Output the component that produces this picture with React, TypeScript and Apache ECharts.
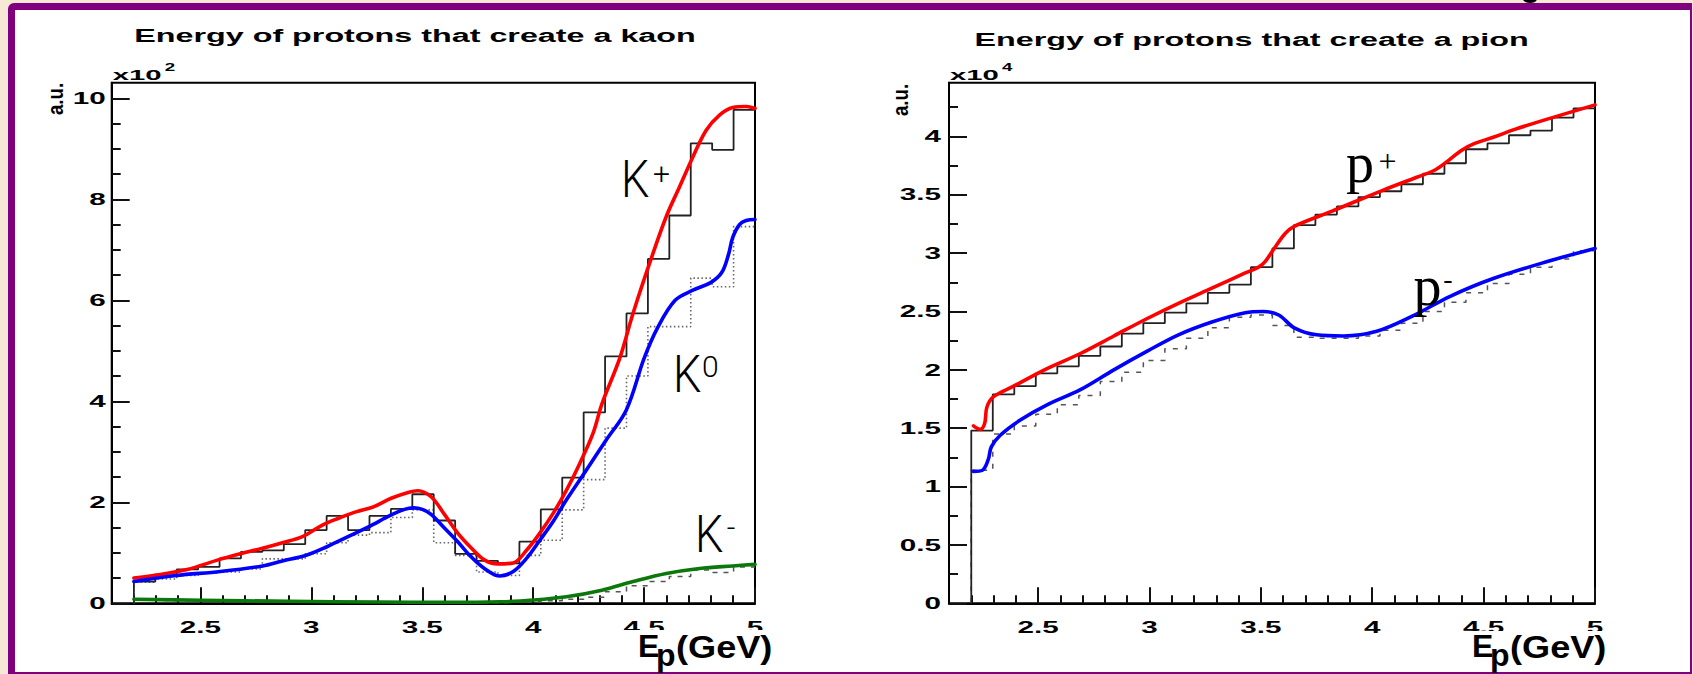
import React, { useEffect, useRef } from "react";
import * as echarts from "echarts";

const W = 1693;
const H = 674;

// ---- axes ----
const X_MIN = 2.1;
const X_MAX = 5.0;
const KAON_Y_MAX = 10.31; // units of 10^2
const PION_Y_MAX = 4.46; // units of 10^4

// ---- histogram binning ----
const BIN_MIN = 2.2;
const BIN_MAX = 5.0;
const N_BINS = 29;

// ---- tick values / labels ----
const xMajorTicks = [2.5, 3, 3.5, 4, 4.5, 5];
const xTickLabels = ["2.5", "3", "3.5", "4", "4.5", "5"];
const xMinorTicks = [2.2, 2.3, 2.4, 2.6, 2.7, 2.8, 2.9, 3.1, 3.2, 3.3, 3.4, 3.6, 3.7, 3.8, 3.9, 4.1, 4.2, 4.3, 4.4, 4.6, 4.7, 4.8, 4.9];
const kaonYMajor = [0, 2, 4, 6, 8, 10];
const kaonYLabels = ["0", "2", "4", "6", "8", "10"];
const kaonYMinor = [0.5, 1, 1.5, 2.5, 3, 3.5, 4.5, 5, 5.5, 6.5, 7, 7.5, 8.5, 9, 9.5];
const pionYMajor = [0, 0.5, 1, 1.5, 2, 2.5, 3, 3.5, 4];
const pionYLabels = ["0", "0.5", "1", "1.5", "2", "2.5", "3", "3.5", "4"];
const pionYMinor = [0.25, 0.75, 1.25, 1.75, 2.25, 2.75, 3.25, 3.75, 4.25];

// ---- kaon histograms (x10^2) ----
const kPlusHist = [0.43, 0.55, 0.67, 0.72, 0.89, 1.02, 1.05, 1.17, 1.45, 1.73, 1.45, 1.73, 1.87, 2.16, 1.64, 0.98, 0.84, 0.79, 1.22, 1.86, 2.49, 3.78, 4.89, 5.74, 6.82, 7.68, 9.11, 8.98, 9.77];
const kZeroHist = [0.42, 0.48, 0.55, 0.6, 0.62, 0.68, 0.88, 0.88, 0.98, 1.2, 1.35, 1.4, 1.7, 1.85, 1.2, 0.95, 0.62, 0.55, 0.95, 1.25, 1.85, 2.45, 3.47, 4.5, 5.48, 5.48, 6.44, 6.27, 7.46];
const kMinusHist = [0.06, 0.05, 0.05, 0.04, 0.04, 0.03, 0.03, 0.03, 0.02, 0.02, 0.02, 0.02, 0.01, 0.01, 0.01, 0.01, 0.01, 0.02, 0.03, 0.05, 0.08, 0.12, 0.23, 0.35, 0.43, 0.53, 0.66, 0.61, 0.72];

// ---- kaon fitted curves ----
const kPlusCurve = [[2.2, 0.5], [2.3, 0.56], [2.44, 0.67], [2.58, 0.86], [2.68, 0.98], [2.78, 1.09], [2.87, 1.2], [2.96, 1.32], [3.05, 1.55], [3.12, 1.68], [3.2, 1.81], [3.28, 1.91], [3.36, 2.08], [3.44, 2.2], [3.48, 2.23], [3.54, 2.11], [3.6, 1.76], [3.66, 1.39], [3.72, 1.1], [3.78, 0.86], [3.84, 0.78], [3.91, 0.8], [3.97, 1.05], [4.03, 1.39], [4.09, 1.78], [4.15, 2.24], [4.21, 2.77], [4.27, 3.37], [4.31, 3.95], [4.39, 4.85], [4.45, 5.74], [4.53, 6.8], [4.6, 7.66], [4.66, 8.25], [4.72, 8.84], [4.78, 9.37], [4.84, 9.67], [4.9, 9.82], [4.96, 9.84], [5.0, 9.8]];
const kZeroCurve = [[2.2, 0.43], [2.39, 0.55], [2.59, 0.63], [2.78, 0.74], [2.87, 0.84], [2.97, 0.94], [3.07, 1.12], [3.17, 1.33], [3.26, 1.52], [3.36, 1.75], [3.42, 1.86], [3.46, 1.89], [3.5, 1.86], [3.54, 1.76], [3.6, 1.49], [3.66, 1.22], [3.72, 0.92], [3.78, 0.69], [3.85, 0.54], [3.91, 0.63], [3.97, 0.89], [4.03, 1.25], [4.09, 1.62], [4.15, 2.05], [4.24, 2.64], [4.33, 3.24], [4.42, 3.83], [4.5, 4.85], [4.56, 5.45], [4.64, 6.0], [4.72, 6.2], [4.8, 6.35], [4.85, 6.55], [4.88, 6.9], [4.9, 7.25], [4.93, 7.5], [4.96, 7.58], [5.0, 7.6]];
const kMinusCurve = [[2.2, 0.08], [2.5, 0.06], [2.9, 0.04], [3.3, 0.025], [3.6, 0.02], [3.85, 0.03], [4.0, 0.065], [4.15, 0.13], [4.31, 0.26], [4.45, 0.43], [4.6, 0.59], [4.75, 0.69], [4.9, 0.74], [5.0, 0.77]];

// ---- pion histograms (x10^4) ----
const piPlusHist = [1.48, 1.79, 1.86, 1.97, 2.03, 2.12, 2.2, 2.31, 2.4, 2.49, 2.57, 2.66, 2.73, 2.88, 3.04, 3.24, 3.33, 3.4, 3.48, 3.53, 3.59, 3.68, 3.77, 3.89, 3.94, 4.01, 4.05, 4.16, 4.24];
const piMinusHist = [1.14, 1.45, 1.52, 1.62, 1.7, 1.78, 1.9, 1.98, 2.08, 2.18, 2.27, 2.36, 2.45, 2.47, 2.38, 2.28, 2.27, 2.27, 2.29, 2.34, 2.4, 2.5, 2.58, 2.66, 2.74, 2.82, 2.88, 2.95, 3.02];

// ---- pion fitted curves ----
const piPlusCurve = [[2.21, 1.52], [2.24, 1.49], [2.26, 1.54], [2.27, 1.68], [2.3, 1.77], [2.39, 1.86], [2.54, 2.01], [2.69, 2.14], [2.84, 2.29], [2.99, 2.44], [3.13, 2.57], [3.28, 2.7], [3.43, 2.83], [3.49, 2.88], [3.52, 2.93], [3.56, 3.04], [3.61, 3.17], [3.65, 3.23], [3.82, 3.36], [4.05, 3.54], [4.2, 3.65], [4.28, 3.71], [4.34, 3.79], [4.4, 3.88], [4.46, 3.94], [4.54, 3.99], [4.64, 4.06], [4.79, 4.15], [5.0, 4.27]];
const piMinusCurve = [[2.21, 1.13], [2.25, 1.14], [2.276, 1.23], [2.29, 1.34], [2.33, 1.44], [2.42, 1.57], [2.54, 1.7], [2.69, 1.83], [2.84, 2.0], [2.99, 2.16], [3.13, 2.3], [3.28, 2.41], [3.43, 2.49], [3.51, 2.5], [3.58, 2.47], [3.65, 2.36], [3.75, 2.3], [3.87, 2.29], [4.02, 2.33], [4.18, 2.46], [4.35, 2.63], [4.54, 2.78], [4.79, 2.93], [5.0, 3.04]];

const SANS = '"Liberation Sans", Arial, Helvetica, sans-serif';
const SERIF = '"Liberation Serif", "Times New Roman", serif';
const THIN = 'Roboto, "Liberation Sans", sans-serif';

const binEdges = Array.from({ length: N_BINS + 1 }, (_, i) => BIN_MIN + (i * (BIN_MAX - BIN_MIN)) / N_BINS);

function histData(vals: number[]) {
  const d: number[][] = [[BIN_MIN, 0]];
  vals.forEach((v, i) => d.push([binEdges[i], v]));
  d.push([BIN_MAX, vals[vals.length - 1]]);
  return d;
}

function xAxisDef(gridIndex: number, ticks: number[], len: number, showLine: boolean) {
  return {
    type: "value",
    gridIndex,
    min: X_MIN,
    max: X_MAX,
    position: "bottom",
    axisLine: { show: showLine, onZero: false, lineStyle: { color: "#000", width: 2 } },
    axisTick: { show: true, inside: true, length: len, customValues: ticks, lineStyle: { color: "#111", width: 2 } },
    axisLabel: { show: false },
    splitLine: { show: false },
  };
}

function yAxisDef(gridIndex: number, max: number, ticks: number[], len: number, showLine: boolean) {
  return {
    type: "value",
    gridIndex,
    min: 0,
    max,
    position: "left",
    axisLine: { show: showLine, onZero: false, lineStyle: { color: "#000", width: 2 } },
    axisTick: { show: true, inside: true, length: len, customValues: ticks, lineStyle: { color: "#111", width: 2 } },
    axisLabel: { show: false },
    splitLine: { show: false },
  };
}

function histSeries(name: string, vals: number[], axis: number, color: string, type: any, width: number) {
  return {
    name,
    type: "line",
    xAxisIndex: axis,
    yAxisIndex: axis,
    step: "end",
    data: histData(vals),
    symbol: "none",
    showSymbol: false,
    lineStyle: { color, width, type },
    silent: true,
    z: 2,
  };
}

function curveSeries(name: string, pts: number[][], axis: number, color: string) {
  return {
    name,
    type: "line",
    xAxisIndex: axis,
    yAxisIndex: axis,
    data: pts,
    smooth: 0.35,
    symbol: "none",
    showSymbol: false,
    lineStyle: { color, width: 3.6, cap: "round", join: "round" },
    silent: true,
    z: 3,
  };
}

function buildOption() {
  const gridBase = { show: true, borderColor: "#000", borderWidth: 2, backgroundColor: "transparent", containLabel: false, outerBoundsMode: "none" };
  return {
    animation: false,
    backgroundColor: "transparent",
    grid: [
      { ...gridBase, left: 111.7, top: 82.7, width: 643.3, height: 520.6 },
      { ...gridBase, left: 949, top: 82.7, width: 646, height: 520.6 },
    ],
    xAxis: [
      xAxisDef(0, xMajorTicks, 16, true),
      xAxisDef(0, xMinorTicks, 8, false),
      xAxisDef(1, xMajorTicks, 16, true),
      xAxisDef(1, xMinorTicks, 8, false),
    ],
    yAxis: [
      yAxisDef(0, KAON_Y_MAX, kaonYMajor, 18, true),
      yAxisDef(0, KAON_Y_MAX, kaonYMinor, 9, false),
      yAxisDef(1, PION_Y_MAX, pionYMajor, 18, true),
      yAxisDef(1, PION_Y_MAX, pionYMinor, 9, false),
    ],
    series: [
      histSeries("K- hist", kMinusHist, 0, "#555", [5, 6], 1.5),
      histSeries("K0 hist", kZeroHist, 0, "#666", [1.5, 2.5], 1.6),
      histSeries("K+ hist", kPlusHist, 0, "#222", "solid", 1.8),
      curveSeries("K+", kPlusCurve, 0, "#ff0000"),
      curveSeries("K0", kZeroCurve, 0, "#0000ff"),
      curveSeries("K-", kMinusCurve, 0, "#0a780a"),
      histSeries("pi- hist", piMinusHist, 2, "#555", [5, 7], 1.5),
      histSeries("pi+ hist", piPlusHist, 2, "#222", "solid", 1.8),
      curveSeries("pi+", piPlusCurve, 2, "#ff0000"),
      curveSeries("pi-", piMinusCurve, 2, "#0000ff"),
    ],
  };
}

type TOpt = { fs: number; ff?: string; fw?: any; sx?: number; sy?: number; rot?: number; align?: string; va?: string; fill?: string; z?: number };

function txt(text: string, x: number, y: number, o: TOpt) {
  return {
    type: "text",
    x,
    y,
    z: o.z ?? 100,
    scaleX: o.sx ?? 1,
    scaleY: o.sy ?? 1,
    rotation: o.rot ?? 0,
    silent: true,
    style: {
      text,
      fill: o.fill ?? "#000",
      fontSize: o.fs,
      fontFamily: o.ff ?? SANS,
      fontWeight: o.fw ?? "normal",
      align: o.align ?? "left",
      verticalAlign: o.va ?? "middle",
    },
  };
}

// baseline -> "middle" anchor
const mid = (baseline: number, fs: number, k = 0.345) => baseline - k * fs;

function buildGraphics(chart: any) {
  const out: any[] = [];
  const panels = [
    { ai: 0, yMax: KAON_Y_MAX, yMajor: kaonYMajor, yLabels: kaonYLabels, yGap: 6, exp: "2", title: "Energy of protons that create a kaon", titleX: 415, titleY: 36, auX: 55, auY: 99 },
    { ai: 2, yMax: PION_Y_MAX, yMajor: pionYMajor, yLabels: pionYLabels, yGap: 8, exp: "4", title: "Energy of protons that create a pion", titleX: 1251.6, titleY: 40, auX: 900, auY: 100 },
  ];
  const tick = { fs: 16, fw: "bold", sx: 1.85 };
  panels.forEach((p) => {
    const toPx = (x: number, y: number) => chart.convertToPixel({ xAxisIndex: p.ai, yAxisIndex: p.ai }, [x, y]) as number[];
    const [x0, y0] = toPx(X_MIN, 0);
    const [, yTop] = toPx(X_MIN, p.yMax);
    p.yMajor.forEach((v, i) => {
      const [, py] = toPx(X_MIN, v);
      out.push(txt(p.yLabels[i], x0 - p.yGap, py, { ...tick, align: "right" }));
    });
    xMajorTicks.forEach((v, i) => {
      const [px] = toPx(v, 0);
      out.push(txt(xTickLabels[i], px, y0 + 24, { ...tick, align: "center" }));
    });
    out.push(txt("x10", x0 + 1, mid(yTop - 2.7, 15), { fs: 15, fw: "bold", sx: 1.95 }));
    out.push(txt(p.exp, x0 + 53, yTop - 15.5, { fs: 11, fw: "bold", sx: 1.7 }));
    out.push(txt("a.u.", p.auX, p.auY, { fs: 17, fw: "bold", rot: Math.PI / 2, sy: 1.3, sx: 1.1, align: "center" }));
    out.push(txt(p.title, p.titleX, p.titleY, { fs: 19, fw: "bold", sx: 1.7, align: "center" }));
  });

  // white boxes behind the E_p(GeV) axis titles
  out.push({ type: "rect", z: 110, silent: true, shape: { x: 622, y: 630, width: 170, height: 41 }, style: { fill: "#fff" } });
  out.push({ type: "rect", z: 110, silent: true, shape: { x: 1466, y: 631, width: 160, height: 40 }, style: { fill: "#fff" } });

  [638, 1472].forEach((L) => {
    out.push(txt("E", L, mid(657.5, 32), { fs: 32, fw: "bold", z: 120 }));
    out.push(txt("p", L + 18, mid(666, 32), { fs: 32, fw: "bold", z: 120 }));
    out.push(txt("(GeV)", L + 38, mid(657.5, 32), { fs: 32, fw: "bold", sx: 1.13, z: 120 }));
  });

  // kaon labels
  const thin = { fs: 51, ff: THIN, fw: 300, sx: 0.88 };
  out.push(txt("K", 621, mid(196.7, 51), thin));
  out.push(txt("+", 661.5, 173.5, { fs: 30, ff: THIN, fw: 300, align: "center" }));
  out.push(txt("K", 673, mid(391.7, 51), thin));
  out.push(txt("0", 702, 366, { fs: 30, ff: THIN, fw: 300 }));
  out.push(txt("K", 695, mid(551.7, 51), thin));
  out.push(txt("-", 731, 527, { fs: 30, ff: THIN, fw: 300, align: "center" }));

  // pion labels
  out.push(txt("p", 1346, mid(181.7, 56, 0.3375), { fs: 56, ff: SERIF }));
  out.push(txt("+", 1387.5, 160.5, { fs: 32, ff: SERIF, align: "center" }));
  out.push(txt("p", 1413.5, mid(305, 56, 0.3375), { fs: 56, ff: SERIF }));
  out.push(txt("-", 1448, 278.5, { fs: 28, ff: SERIF, align: "center" }));

  // clipped glyph fragment from the slide title above the frame
  out.push({ type: "ellipse", z: 100, silent: true, shape: { cx: 1530, cy: -1, rx: 7, ry: 4 }, style: { fill: "#000" } });
  return out;
}

export default function App() {
  const ref = useRef<HTMLDivElement>(null);
  useEffect(() => {
    document.body.style.margin = "0";
    const el = ref.current!;
    const chart = echarts.init(el, null, { renderer: "svg", width: W, height: H });
    chart.setOption(buildOption() as any);
    chart.setOption({ graphic: buildGraphics(chart) } as any);
    return () => chart.dispose();
  }, []);
  return (
    <div style={{ position: "fixed", left: 0, top: 0, width: W, height: H, background: "#f6e9d6", overflow: "hidden" }}>
      <div
        style={{
          position: "absolute",
          left: 8,
          top: 3,
          width: 1684,
          height: 671,
          boxSizing: "border-box",
          background: "#fff",
          borderStyle: "solid",
          borderColor: "#800080",
          borderWidth: "7px 2px 2px 7px",
          borderTopLeftRadius: 6,
        }}
      />
      <div ref={ref} style={{ position: "absolute", left: 0, top: 0, width: W, height: H }} />
    </div>
  );
}
